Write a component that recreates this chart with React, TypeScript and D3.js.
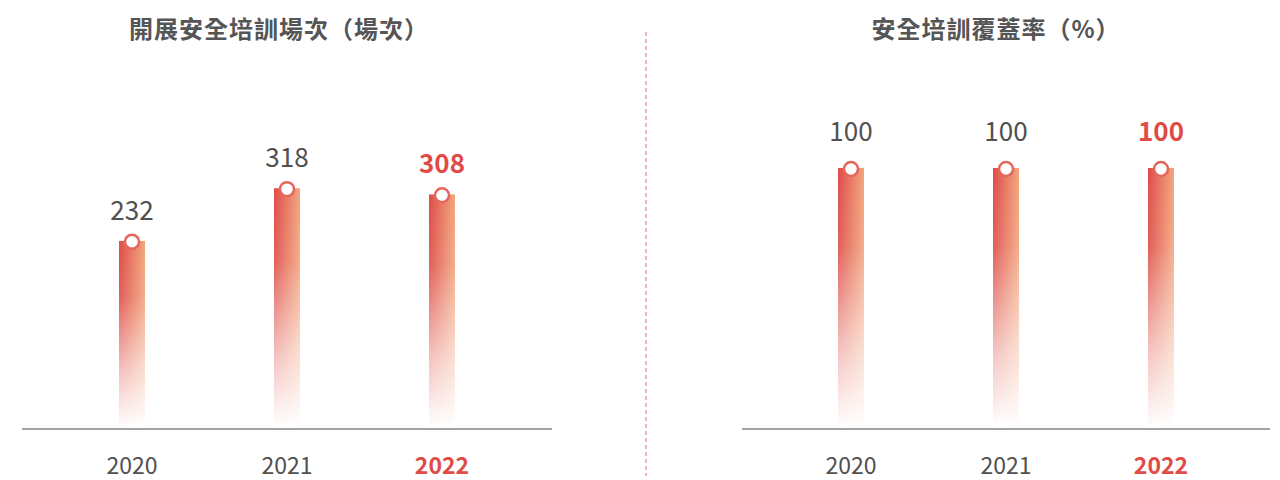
import React from "react";
import * as d3 from "d3";

const years = ["2020", "2021", "2022"];
const sessions = [232, 318, 308];
const coverage = [100, 100, 100];
const titleLeft = "開展安全培訓場次（場次）";
const titleRight = "安全培訓覆蓋率（%）";
const highlightYear = "2022";

const W = 1280;
const H = 480;
const BASE = 429;
const FONT = "'Noto Sans CJK TC', 'Noto Sans CJK SC', sans-serif";

type PanelProps = {
  id: string;
  x0: number;
  x1: number;
  title: string;
  values: number[];
  y: d3.ScaleLinear<number, number>;
  titleDx: number;
  labelGap: number;
};

function Panel({ id, x0, x1, title, values, y, titleDx, labelGap }: PanelProps) {
  const cx = (x0 + x1) / 2;
  const x = d3.scalePoint<string>().domain(years).range([cx - 155, cx + 155]);
  const bw = 26;
  return (
    <g>
      <text
        x={cx + titleDx}
        y={38}
        textAnchor="middle"
        fontFamily={FONT}
        fontWeight={700}
        fontSize={24}
        letterSpacing={1}
        fill="#555"
      >
        {title}
      </text>
      {years.map((yr, i) => {
        const px = x(yr) as number;
        const top = y(values[i]);
        const hl = yr === highlightYear;
        return (
          <g key={yr}>
            <rect
              x={px - bw / 2}
              y={top}
              width={bw}
              height={BASE - 1 - top}
              fill={`url(#${id}-h)`}
              mask={`url(#${id}-mask)`}
            />
            <circle cx={px} cy={top + 1} r={7} fill="#fff" stroke="#e4675b" strokeWidth={2.5} />
            <text
              x={px}
              y={top - labelGap}
              textAnchor="middle"
              fontFamily={FONT}
              fontSize={26}
              fontWeight={hl ? 700 : 400}
              fill={hl ? "#e04b47" : "#505050"}
            >
              {values[i]}
            </text>
            <text
              x={px}
              y={474}
              textAnchor="middle"
              fontFamily={FONT}
              fontSize={23}
              fontWeight={hl ? 700 : 400}
              fill={hl ? "#e04b47" : "#505050"}
            >
              {yr}
            </text>
          </g>
        );
      })}
      <line x1={x0} x2={x1} y1={BASE} y2={BASE} stroke="#858585" strokeWidth={1.5} />
    </g>
  );
}

export default function App() {
  const yLeft = d3.scaleLinear().domain([-76, 400]).range([BASE, BASE - 291]);
  const yRight = d3.scaleLinear().domain([0, 100]).range([BASE, 168]);
  const defs = ["L", "R"];
  return (
    <svg
      width={W}
      height={H}
      style={{ position: "absolute", left: 0, top: 0, display: "block", background: "#fff" }}
    >
      <defs>
        {defs.map((k) => (
          <React.Fragment key={k}>
            <linearGradient id={`${k}-h`} x1="0" y1="0" x2="1" y2="0">
              <stop offset="0" stopColor="#de4c48" />
              <stop offset="1" stopColor="#f2a67e" />
            </linearGradient>
            <linearGradient id={`${k}-v`} x1="0" y1="0" x2="0" y2="1">
              <stop offset="0" stopColor="#fff" stopOpacity={1} />
              <stop offset="0.3" stopColor="#fff" stopOpacity={0.9} />
              <stop offset="0.7" stopColor="#fff" stopOpacity={0.35} />
              <stop offset="1" stopColor="#fff" stopOpacity={0} />
            </linearGradient>
            <mask id={`${k}-mask`} maskContentUnits="objectBoundingBox">
              <rect x={0} y={0} width={1} height={1} fill={`url(#${k}-v)`} />
            </mask>
          </React.Fragment>
        ))}
      </defs>
      <Panel id="L" x0={22} x1={552} title={titleLeft} values={sessions} y={yLeft} titleDx={-8} labelGap={21} />
      <Panel id="R" x0={742} x1={1270} title={titleRight} values={coverage} y={yRight} titleDx={-10} labelGap={27} />
      <line x1={646} x2={646} y1={32} y2={476} stroke="#ee9a9a" strokeWidth={1.5} strokeDasharray="4 3" />
    </svg>
  );
}
